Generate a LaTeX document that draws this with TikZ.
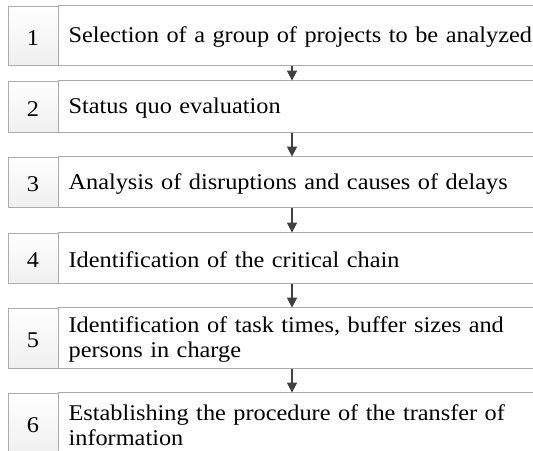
\documentclass[tikz,border=0pt]{standalone}
\usepackage{fontspec}
\setmainfont[FakeStretch=1.08,WordSpace={0.9,1,1}]{Liberation Serif}
\usetikzlibrary{arrows.meta}

\begin{document}
\begin{tikzpicture}[x=1pt,y=-1pt,
    num/.style={draw=gray!65, line width=0.8pt, minimum width=50pt,
        inner sep=0pt, top color=white, bottom color=gray!12,
        text height=19pt, text depth=0pt,
        font=\fontsize{22.5}{25}\selectfont},
    txt/.style={anchor=west, inner xsep=10pt, inner ysep=0pt,
        yshift=-2pt, text width=465pt, align=left,
        font=\fontsize{22.5}{25}\selectfont},
    rule/.style={draw=gray!65, line width=0.8pt},
    flow/.style={draw=black!75, line width=1.6pt,
        -{Triangle[length=10pt,width=10pt]}, shorten <=0.5pt}]
    \useasboundingbox (0,0) rectangle (533,450);
    \coordinate (ax) at (292,0);

    % steps
    \node[num, minimum height=59pt] (n1) at (33,35.5) {1};
    \node[txt] (t1) at (n1.east) {Selection of a group of projects to be analyzed};
    \node[num, minimum height=51pt] (n2) at (33,106.5) {2};
    \node[txt] (t2) at (n2.east) {Status quo evaluation};
    \node[num, minimum height=50pt] (n3) at (33,182) {3};
    \node[txt] (t3) at (n3.east) {Analysis of disruptions and causes of delays};
    \node[num, minimum height=50pt] (n4) at (33,258) {4};
    \node[txt] (t4) at (n4.east) {Identification of the critical chain};
    \node[num, minimum height=60pt] (n5) at (33,338) {5};
    \node[txt] (t5) at (n5.east) {Identification of task times, buffer sizes and\\persons in charge};
    \node[num, minimum height=60pt] (n6) at (33,423) {6};
    \node[txt] (t6) at (n6.east) {Establishing the procedure of the transfer of\\information};

    \foreach \i in {1,...,6} {
        \draw[rule] (n\i.north east) -- (n\i.north east -| t\i.east);
        \draw[rule] (n\i.south east) -- (n\i.south east -| t\i.east);
    }

    % arrows
    \foreach \i/\j in {1/2,2/3,3/4,4/5,5/6}
        \draw[flow] (n\i.south -| ax) -- (n\j.north -| ax);
\end{tikzpicture}
\end{document}
